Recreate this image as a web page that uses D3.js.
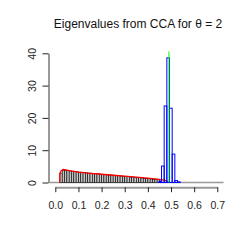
<!DOCTYPE html>
<html>
<head>
<meta charset="utf-8">
<script src="https://cdn.jsdelivr.net/npm/d3@7"></script>
<style>
body { margin: 0; background: #fff; }
text { font-family: "Liberation Sans", Arial, sans-serif; }
</style>
</head>
<body>
<div class="container"></div>
<script>

// x axis ticks and y axis ticks
var xTicks = [0, 0.1, 0.2, 0.3, 0.4, 0.5, 0.6, 0.7];
var yTicks = [0, 10, 20, 30, 40];

// gray histogram of the bulk eigenvalues (bins of 0.01 from 0.02)
var bulkStart = 0.02, bulkWidth = 0.01;
var bulkHeights = [2.9, 3.7, 3.8, 3.7, 3.6, 3.5, 3.4, 3.3, 3.2, 3.2,
                   3.1, 3.0, 2.9, 2.9, 2.8, 2.7, 2.7, 2.6, 2.5, 2.5,
                   2.4, 2.3, 2.3, 2.2, 2.1, 2.1, 2.0, 1.9, 1.9, 1.8,
                   1.7, 1.7, 1.6, 1.5, 1.5, 1.4, 1.3, 1.3, 1.2, 1.1,
                   1.0, 1.0, 0.9, 0.8];

// red limiting density
var densX = [0.019, 0.0195, 0.025, 0.034, 0.045, 0.06, 0.08, 0.1, 0.15, 0.2,
             0.25, 0.3, 0.35, 0.4, 0.45, 0.47, 0.48, 0.485, 0.49];
var densY = [0, 2.8, 3.6, 4.05, 3.9, 3.7, 3.45, 3.2, 2.85, 2.55,
             2.25, 1.95, 1.65, 1.35, 1.0, 0.75, 0.5, 0.25, 0.05];

// blue histogram of the spiked eigenvalue
var spikeStart = 0.4475, spikeWidth = 0.0115;
var spikeHeights = [0.3, 5.1, 23.7, 38.6, 23.0, 8.8, 0.6, 0.2];

// green line: theoretical location
var spikeLoc = 0.491, spikeTop = 40.6;

var svg = d3.select('.container')
            .append('svg')
                .attr('width', 249)
                .attr('height', 249);

var x = d3.scaleLinear().domain([0, 0.7]).range([55.3, 217.3]);
var y = d3.scaleLinear().domain([0, 40]).range([182.5, 53.3]);

// title
var title = svg.append('text')
                .attr('x', 138)
                .attr('y', 28)
                .attr('text-anchor', 'middle')
                .style('font-size', '12px')
                .style('fill', '#111');
title.append('tspan').text('Eigenvalues from CCA for  ');
title.append('tspan').text('\u03b8 = 2');

// baseline
svg.append('line')
    .attr('x1', 49).attr('x2', 223.5)
    .attr('y1', y(0)).attr('y2', y(0))
    .style('stroke', '#999')
    .style('stroke-width', 1.5);

// gray bulk histogram
svg.append('g').selectAll('rect')
    .data(bulkHeights)
    .enter().append('rect')
        .attr('x', function(d, i) { return x(bulkStart + i * bulkWidth); })
        .attr('width', function(d, i) { return x(bulkStart + (i + 1) * bulkWidth) - x(bulkStart + i * bulkWidth); })
        .attr('y', function(d) { return y(d); })
        .attr('height', function(d) { return y(0) - y(d); })
        .style('fill', '#c4c4c4')
        .style('stroke', '#000')
        .style('stroke-width', 0.6);

// red density
var dens = densX.map(function(v, i) { return [v, densY[i]]; });
svg.append('path')
    .datum(dens)
    .attr('d', d3.line().x(function(d) { return x(d[0]); }).y(function(d) { return y(d[1]); }))
    .style('fill', 'none')
    .style('stroke', 'red')
    .style('stroke-width', 1.3);

// blue spike histogram
svg.append('g').selectAll('rect')
    .data(spikeHeights)
    .enter().append('rect')
        .attr('x', function(d, i) { return x(spikeStart + i * spikeWidth); })
        .attr('width', function(d, i) { return x(spikeStart + (i + 1) * spikeWidth) - x(spikeStart + i * spikeWidth); })
        .attr('y', function(d) { return y(d); })
        .attr('height', function(d) { return y(0) - y(d); })
        .style('fill', 'none')
        .style('stroke', 'blue')
        .style('stroke-width', 1);

// green line
svg.append('line')
    .attr('x1', x(spikeLoc)).attr('x2', x(spikeLoc))
    .attr('y1', y(0)).attr('y2', y(spikeTop))
    .style('stroke', '#00ff00')
    .style('stroke-width', 1);

// x axis
var xAxis = svg.append('g')
    .attr('transform', 'translate(0,187.2)')
    .call(d3.axisBottom(x).tickValues(xTicks).tickFormat(d3.format('.1f'))
            .tickSize(5).tickSizeOuter(0).tickPadding(9.5));
xAxis.select('.domain').style('stroke', '#999').style('stroke-width', 2);
xAxis.selectAll('.tick line').style('stroke', '#222');
xAxis.selectAll('.tick text').style('font-size', '10.5px').style('fill', '#222')
    .style('font-family', '"Liberation Sans", Arial, sans-serif');

// y axis
var yAxis = svg.append('g')
    .attr('transform', 'translate(48.5,0)')
    .call(d3.axisLeft(y).tickValues(yTicks).tickSize(6).tickSizeOuter(0));
yAxis.select('.domain').style('stroke', '#999').style('stroke-width', 2);
yAxis.selectAll('.tick line').style('stroke', '#222');
yAxis.selectAll('.tick text')
    .attr('transform', 'rotate(-90)')
    .attr('x', 0).attr('y', -13).attr('dy', 0)
    .attr('text-anchor', 'middle')
    .style('font-size', '10.5px').style('fill', '#222')
    .style('font-family', '"Liberation Sans", Arial, sans-serif');

</script>
</body>
</html>
